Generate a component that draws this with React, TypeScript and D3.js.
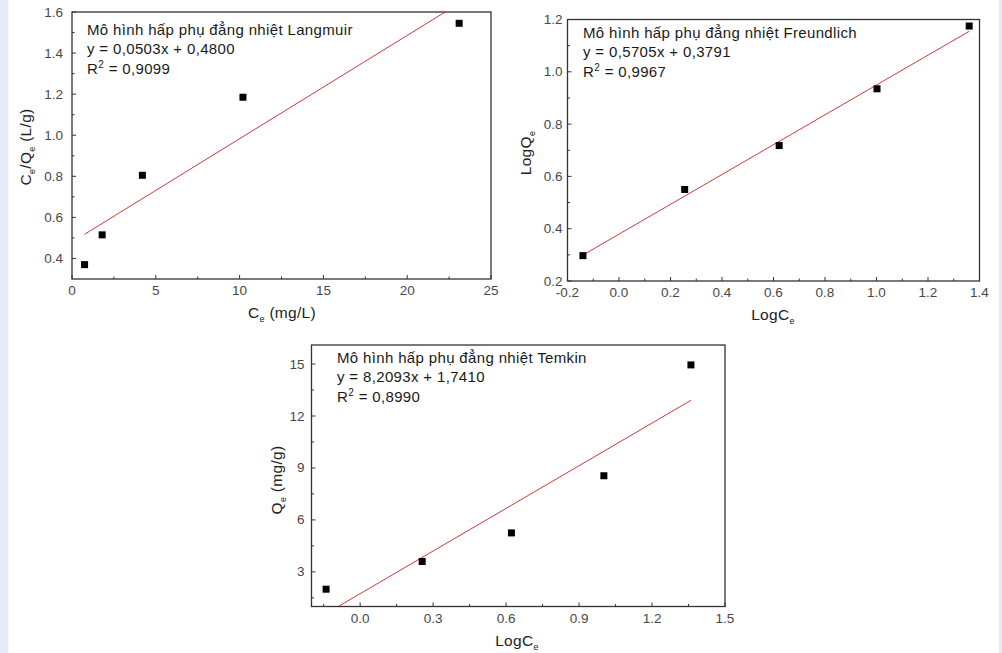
import React from 'react'
import { scaleLinear, range, line } from 'd3'

// Langmuir: Ce vs Ce/Qe
const langX = [0.75, 1.8, 4.2, 10.2, 23.1]
const langY = [0.37, 0.515, 0.805, 1.185, 1.545]
// Freundlich: LogCe vs LogQe
const freuX = [-0.14, 0.255, 0.622, 1.002, 1.36]
const freuY = [0.297, 0.55, 0.718, 0.935, 1.175]
// Temkin: LogCe vs Qe
const temX = [-0.14, 0.255, 0.622, 1.002, 1.36]
const temY = [2.0, 3.6, 5.25, 8.55, 14.95]

const langText = ['Mô hình hấp phụ đẳng nhiệt Langmuir', 'y = 0,0503x + 0,4800', '0,9099']
const freuText = ['Mô hình hấp phụ đẳng nhiệt Freundlich', 'y = 0,5705x + 0,3791', '0,9967']
const temText = ['Mô hình hấp phụ đẳng nhiệt Temkin', 'y = 8,2093x  + 1,7410', '0,8990']

const FONT = '"Liberation Sans", Arial, sans-serif'

type PanelProps = {
  id: string
  left: number; top: number; right: number; bottom: number
  xDomain: [number, number]; yDomain: [number, number]
  xTicks: number[]; xMinor: number[]; yTicks: number[]; yMinor: number[]
  xFmt: (v: number) => string; yFmt: (v: number) => string
  xs: number[]; ys: number[]
  slope: number; icpt: number; fitRange: [number, number]
  text: string[]; textX: number; textY: number
  xLabel: React.ReactNode; yLabel: React.ReactNode
  xLabelPos: [number, number]; yLabelPos: [number, number]
  yLabelGap: number
}

function Panel(p: PanelProps) {
  const x = scaleLinear().domain(p.xDomain).range([p.left, p.right])
  const y = scaleLinear().domain(p.yDomain).range([p.bottom, p.top])
  const fit = line<number>().x(d => x(d)).y(d => y(p.slope * d + p.icpt))
  const ax = '#333'
  return (
    <g fontFamily={FONT}>
      <defs>
        <clipPath id={p.id}>
          <rect x={p.left} y={p.top} width={p.right - p.left} height={p.bottom - p.top} />
        </clipPath>
      </defs>
      <path d={fit(p.fitRange) || ''} stroke="#cc3a3a" strokeWidth={1} fill="none" clipPath={`url(#${p.id})`} />
      {p.xs.map((d, i) => (
        <rect key={i} x={x(d) - 3.5} y={y(p.ys[i]) - 3.5} width={7} height={7} fill="#000" />
      ))}
      <rect x={p.left} y={p.top} width={p.right - p.left} height={p.bottom - p.top} fill="none" stroke={ax} strokeWidth={1.3} />
      {p.xTicks.map(t => (
        <g key={'xt' + t}>
          <line x1={x(t)} x2={x(t)} y1={p.bottom} y2={p.bottom - 4} stroke={ax} />
          <text x={x(t)} y={p.bottom + 16} textAnchor="middle" fontSize={13.5} fill="#484848">{p.xFmt(t)}</text>
        </g>
      ))}
      {p.xMinor.map(t => (
        <line key={'xm' + t} x1={x(t)} x2={x(t)} y1={p.bottom} y2={p.bottom - 2.5} stroke={ax} />
      ))}
      {p.yTicks.map(t => (
        <g key={'yt' + t}>
          <line x1={p.left} x2={p.left + 4} y1={y(t)} y2={y(t)} stroke={ax} />
          <text x={p.left - p.yLabelGap} y={y(t) + 4.5} textAnchor="end" fontSize={13.5} fill="#484848">{p.yFmt(t)}</text>
        </g>
      ))}
      {p.yMinor.map(t => (
        <line key={'ym' + t} x1={p.left} x2={p.left + 2.5} y1={y(t)} y2={y(t)} stroke={ax} />
      ))}
      <g fontSize={15} letterSpacing={0.35} fill="#1a1a1a">
        <text x={p.textX} y={p.textY}>{p.text[0]}</text>
        <text x={p.textX} y={p.textY + 18.5}>{p.text[1]}</text>
        <text x={p.textX} y={p.textY + 38.5}>
          R<tspan fontSize={10} dy={-6}>2</tspan><tspan dy={6}> = {p.text[2]}</tspan>
        </text>
      </g>
      <text x={p.xLabelPos[0]} y={p.xLabelPos[1]} textAnchor="middle" fontSize={15.5} letterSpacing={0.3} fill="#222">{p.xLabel}</text>
      <text transform={`translate(${p.yLabelPos[0]},${p.yLabelPos[1]}) rotate(-90)`} textAnchor="middle" fontSize={15.5} letterSpacing={0.3} fill="#222">{p.yLabel}</text>
    </g>
  )
}

const sub = (s: string) => <tspan fontSize={9} dy={4}>{s}</tspan>

export default function App() {
  const f1 = (v: number) => v.toFixed(1)
  const f0 = (v: number) => v.toFixed(0)
  return (
    <svg width={1002} height={653} style={{ position: 'absolute', left: 0, top: 0, background: '#fff' }}>
      <rect x={0} y={0} width={8.5} height={653} fill="#e6ebf6" />
      <rect x={999} y={0} width={3} height={653} fill="#e6ebf6" />
      <Panel
        id="c1" left={72} top={12} right={491} bottom={279}
        xDomain={[0, 25]} yDomain={[0.3, 1.6]}
        xTicks={range(0, 26, 5)} xMinor={range(2.5, 25, 5)}
        yTicks={range(0.4, 1.61, 0.2)} yMinor={range(0.5, 1.6, 0.2)}
        xFmt={f0} yFmt={f1}
        xs={langX} ys={langY} slope={0.0503} icpt={0.48} fitRange={[0.75, 23.1]}
        text={langText} textX={87} textY={35}
        xLabel={<>C{sub('e')}<tspan dy={-4}> (mg/L)</tspan></>}
        yLabel={<>C{sub('e')}<tspan dy={-4}>/Q</tspan>{sub('e')}<tspan dy={-4}> (L/g)</tspan></>}
        xLabelPos={[282, 318]} yLabelPos={[31, 147]} yLabelGap={9}
      />
      <Panel
        id="c2" left={567.5} top={19.5} right={979.5} bottom={281}
        xDomain={[-0.2, 1.4]} yDomain={[0.2, 1.2]}
        xTicks={range(-0.2, 1.41, 0.2)} xMinor={range(-0.1, 1.4, 0.2)}
        yTicks={range(0.2, 1.21, 0.2)} yMinor={range(0.3, 1.2, 0.2)}
        xFmt={f1} yFmt={f1}
        xs={freuX} ys={freuY} slope={0.5705} icpt={0.3791} fitRange={[-0.13, 1.36]}
        text={freuText} textX={583} textY={38}
        xLabel={<>LogC{sub('e')}</>}
        yLabel={<>LogQ{sub('e')}</>}
        xLabelPos={[773, 320]} yLabelPos={[531, 153]} yLabelGap={5}
      />
      <Panel
        id="c3" left={311.5} top={345} right={725} bottom={606.5}
        xDomain={[-0.2, 1.5]} yDomain={[1, 16.1]}
        xTicks={range(0, 1.51, 0.3)} xMinor={range(-0.15, 1.5, 0.3)}
        yTicks={range(3, 15.1, 3)} yMinor={range(1.5, 16, 3)}
        xFmt={f1} yFmt={f0}
        xs={temX} ys={temY} slope={8.2093} icpt={1.741} fitRange={[-0.14, 1.36]}
        text={temText} textX={337} textY={363}
        xLabel={<>LogC{sub('e')}</>}
        yLabel={<>Q{sub('e')}<tspan dy={-4}> (mg/g)</tspan></>}
        xLabelPos={[517, 646]} yLabelPos={[282, 480]} yLabelGap={7}
      />
    </svg>
  )
}
